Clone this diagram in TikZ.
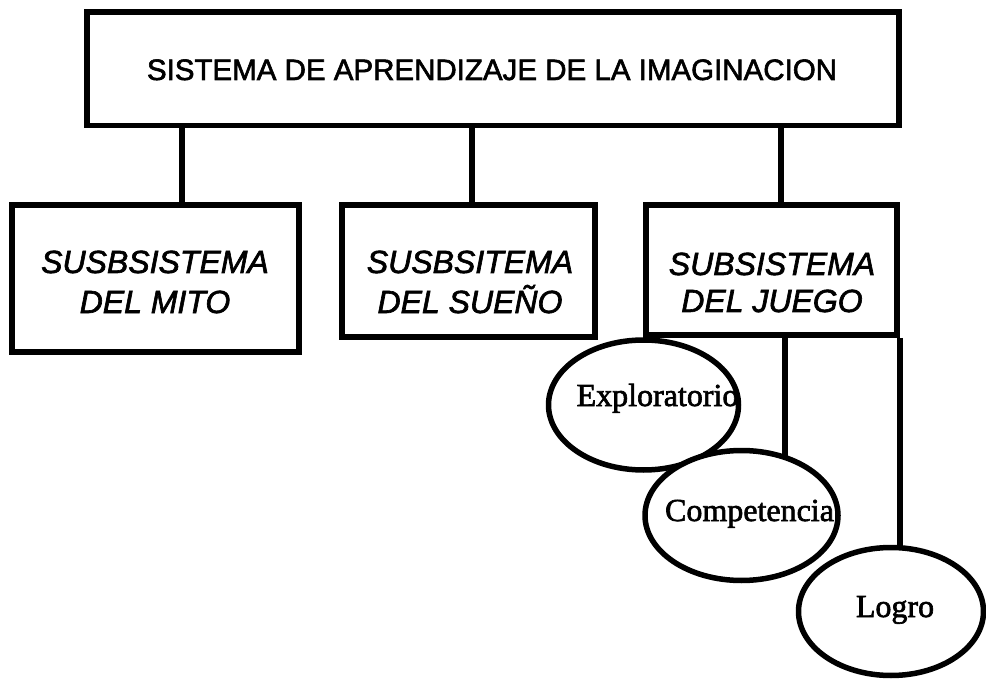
\documentclass[tikz,border=0pt]{standalone}
\usepackage{fontspec}
\setmainfont[FakeBold=2]{Liberation Serif}
\newfontfamily\arialf[FakeBold=2]{Liberation Sans}
\usetikzlibrary{shapes.geometric}
\begin{document}
\begin{tikzpicture}[x=1pt,y=-1pt,
  lw/.style={line width=5.5pt},
  boxshape/.style={draw, lw, rectangle, inner sep=0pt},
  ellshape/.style={draw, lw, ellipse, fill=white, inner sep=0pt},
  titletext/.style={font=\arialf\fontsize{29.5}{36}\selectfont, inner sep=0pt, anchor=base},
  subtext/.style={font=\arialf\itshape\fontsize{32}{36}\selectfont, inner sep=0pt, anchor=base},
  elltext/.style={font=\fontsize{32}{36}\selectfont, inner sep=0pt, anchor=base},
  conn/.style={lw}
]
\useasboundingbox[fill=white] (0,0) rectangle (986,679);

% boxes
\node[boxshape, minimum width=812pt, minimum height=113.5pt] (top) at (493,68.75) {};
\node[boxshape, minimum width=287pt, minimum height=147pt] (b1) at (155.5,278.5) {};
\node[boxshape, minimum width=253pt, minimum height=132pt] (b2) at (468.5,271) {};
\node[boxshape, minimum width=251pt, minimum height=130pt] (b3) at (771.5,270) {};

% junction coordinates
\coordinate (j1) at (182,0);
\coordinate (j2) at (472,0);
\coordinate (j3) at (781,0);
\coordinate (j4) at (785,0);

% ellipse positions (for connectors)
\coordinate (c2) at (741.5,515.5);
\coordinate (c3) at (891,611.5);

% connectors
\draw[conn] (top.south -| j1) -- (b1.north -| j1);
\draw[conn] (top.south -| j2) -- (b2.north -| j2);
\draw[conn] (top.south -| j3) -- (b3.north -| j3);
\draw[conn] (b3.south -| j4) -- (c2 -| j4);
\draw[conn] (b3.south east) -- (c3 -| b3.south east);

% ellipses
\node[ellshape, minimum width=190pt, minimum height=130pt] (e1) at (643.5,405) {};
\node[ellshape, minimum width=193pt, minimum height=130pt] (e2) at (c2) {};
\node[ellshape, minimum width=185pt, minimum height=128pt] (e3) at (c3) {};

% texts
\node[titletext] (tt) at (492,80) {SISTEMA DE APRENDIZAJE DE LA IMAGINACION};
\node[subtext] (t1a) at (155,273) {SUSBSISTEMA};
\node[subtext] (t1b) at (155,313) {DEL MITO};
\node[subtext] (t2a) at (470,273) {SUSBSITEMA};
\node[subtext] (t2b) at (470,313) {DEL SUEÑO};
\node[subtext] (t3a) at (772,275) {SUBSISTEMA};
\node[subtext] (t3b) at (772,312) {DEL JUEGO};
\node[elltext] (x1) at (657.5,406) {Exploratorio};
\node[elltext] (x2) at (749.5,521) {Competencia};
\node[elltext] (x3) at (895,617) {Logro};
\end{tikzpicture}
\end{document}
